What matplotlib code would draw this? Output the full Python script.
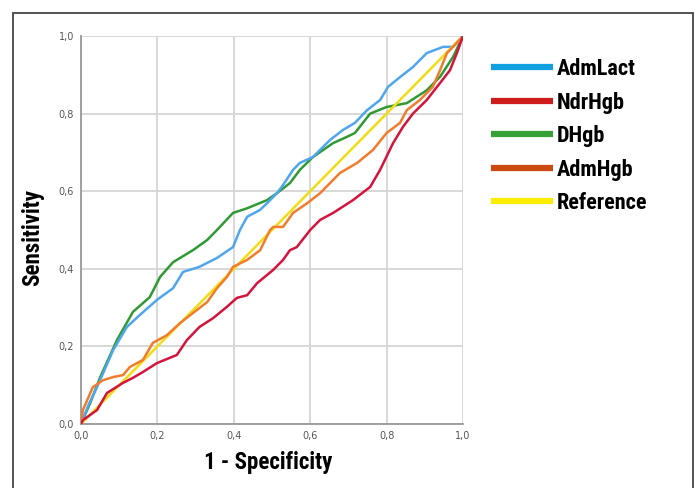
import matplotlib
matplotlib.use("Agg")
import matplotlib.pyplot as plt
import matplotlib.font_manager as fm
from matplotlib.lines import Line2D
from matplotlib.patches import Rectangle

# ROC curves (1 - specificity, sensitivity)
adm_lact_x = [0.0, 0.02, 0.042, 0.084, 0.12, 0.154, 0.199, 0.241, 0.267, 0.31, 0.356, 0.398,
              0.416, 0.435, 0.469, 0.487, 0.513, 0.529, 0.555, 0.573, 0.607, 0.652, 0.686,
              0.717, 0.749, 0.783, 0.804, 0.835, 0.869, 0.905, 0.948, 0.974, 1.0]
adm_lact_y = [0.0, 0.05, 0.095, 0.19, 0.25, 0.281, 0.32, 0.35, 0.392, 0.405, 0.428, 0.456,
              0.5, 0.534, 0.552, 0.569, 0.595, 0.616, 0.655, 0.673, 0.688, 0.732, 0.758,
              0.776, 0.809, 0.835, 0.869, 0.894, 0.92, 0.956, 0.972, 0.972, 1.0]

ndr_hgb_x = [0.0, 0.005, 0.042, 0.068, 0.11, 0.136, 0.162, 0.199, 0.251, 0.277, 0.31, 0.346,
             0.382, 0.408, 0.435, 0.461, 0.503, 0.529, 0.547, 0.565, 0.6, 0.626, 0.66,
             0.712, 0.757, 0.783, 0.817, 0.843, 0.869, 0.905, 0.94, 0.966, 0.984, 1.0]
ndr_hgb_y = [0.0, 0.01, 0.036, 0.08, 0.106, 0.119, 0.134, 0.157, 0.178, 0.216, 0.25, 0.273,
             0.302, 0.325, 0.332, 0.363, 0.397, 0.423, 0.448, 0.456, 0.5, 0.526, 0.544,
             0.577, 0.611, 0.655, 0.724, 0.766, 0.8, 0.835, 0.879, 0.912, 0.956, 1.0]

d_hgb_x = [0.0, 0.024, 0.05, 0.094, 0.136, 0.18, 0.207, 0.241, 0.293, 0.33, 0.356, 0.398,
           0.435, 0.487, 0.513, 0.547, 0.573, 0.607, 0.66, 0.696, 0.717, 0.757, 0.8,
           0.853, 0.905, 0.94, 0.974, 1.0]
d_hgb_y = [0.0, 0.054, 0.12, 0.216, 0.289, 0.327, 0.379, 0.417, 0.448, 0.474, 0.5, 0.544,
           0.556, 0.577, 0.595, 0.621, 0.655, 0.688, 0.724, 0.74, 0.75, 0.8, 0.817,
           0.827, 0.86, 0.895, 0.946, 1.0]

adm_hgb_x = [0.0, 0.005, 0.031, 0.058, 0.084, 0.11, 0.128, 0.162, 0.188, 0.225, 0.259, 0.293,
             0.33, 0.356, 0.382, 0.398, 0.435, 0.469, 0.495, 0.503, 0.529, 0.555, 0.592,
             0.626, 0.678, 0.723, 0.764, 0.8, 0.835, 0.853, 0.887, 0.921, 0.94, 0.958,
             0.974, 1.0]
adm_hgb_y = [0.0, 0.036, 0.095, 0.113, 0.121, 0.126, 0.147, 0.165, 0.209, 0.229, 0.26, 0.286,
             0.314, 0.35, 0.379, 0.405, 0.423, 0.448, 0.5, 0.508, 0.508, 0.544, 0.569,
             0.595, 0.647, 0.673, 0.706, 0.75, 0.776, 0.809, 0.835, 0.869, 0.912, 0.956,
             0.972, 1.0]

ref_x = [0.0, 1.0]
ref_y = [0.0, 1.0]

series_names = ["AdmLact", "NdrHgb", "DHgb", "AdmHgb", "Reference"]
line_colors = ["#4fa6ec", "#d4143c", "#2f9a33", "#f27b2c", "#f2dc12"]
legend_colors = ["#0fa0e2", "#cf1c1c", "#36a136", "#cc4a12", "#fcec00"]

tick_vals = [0.0, 0.2, 0.4, 0.6, 0.8, 1.0]
tick_labels = ["0,0", "0,2", "0,4", "0,6", "0,8", "1,0"]


def pick_condensed():
    # the reference uses a heavy condensed face; take the narrowest one installed
    entries = fm.fontManager.ttflist
    names = {f.name for f in entries}
    for name in ("Roboto Condensed", "Liberation Sans Narrow", "Open Sans Condensed",
                 "Noto Sans Condensed"):
        if name in names:
            return {"family": [name, "DejaVu Sans"], "stretch": "normal"}
    for f in entries:
        if f.name == "DejaVu Sans" and "condensed" in str(f.stretch).lower():
            return {"family": ["DejaVu Sans"], "stretch": "condensed"}
    return {"family": ["Liberation Sans", "DejaVu Sans"], "stretch": "normal"}


font_choice = pick_condensed()
bold_font = font_choice["family"]
bold_stretch = font_choice["stretch"]
heavy = 900

fig = plt.figure(figsize=(6.96, 4.88), dpi=100)
fig.patch.set_facecolor("white")

# outer frame (bottom edge runs off the image)
fig.add_artist(Rectangle((13 / 696, -0.05), 680 / 696, 1 - 13 / 488 + 0.05,
                         transform=fig.transFigure, fill=False,
                         edgecolor="#444444", linewidth=1.3))

ax = fig.add_axes([81 / 696, 64 / 488, 382 / 696, 388 / 488])

order = [(d_hgb_x, d_hgb_y, 2), (adm_lact_x, adm_lact_y, 0),
         (ref_x, ref_y, 4), (adm_hgb_x, adm_hgb_y, 3), (ndr_hgb_x, ndr_hgb_y, 1)]
for xs, ys, i in order:
    ax.plot(xs, ys, color=line_colors[i], linewidth=1.8, solid_joinstyle="round", zorder=3)

ax.set_xlim(0, 1)
ax.set_ylim(0, 1)
ax.set_xticks(tick_vals)
ax.set_xticklabels(tick_labels)
ax.set_yticks(tick_vals)
ax.set_yticklabels(tick_labels)
ax.tick_params(length=0, labelsize=7, labelcolor="#555555", pad=5)
ax.grid(True, color="#d6d6d6", linewidth=1.3, zorder=0)
for side in ("top", "right"):
    ax.spines[side].set_visible(False)
for side in ("left", "bottom"):
    ax.spines[side].set_color("#999999")
    ax.spines[side].set_linewidth(1.3)

fig.text(33 / 696, 1 - 237 / 488, "Sensitivity", rotation=90, ha="center", va="center",
         fontsize=16.5, fontweight=heavy, family=bold_font, fontstretch=bold_stretch)
fig.text(268 / 696, 1 - 462 / 488, "1 - Specificity", ha="center", va="center",
         fontsize=16.5, fontweight=heavy, family=bold_font, fontstretch=bold_stretch)

handles = [Line2D([0], [0], color=c, linewidth=4.5, solid_capstyle="butt") for c in legend_colors]
leg = fig.legend(handles, series_names, loc="upper left",
                 bbox_to_anchor=(471 / 696, 1 - 38 / 488), frameon=False,
                 handlelength=2.8, handletextpad=0.15, labelspacing=0.52,
                 prop={"family": bold_font, "weight": heavy, "size": 16,
                       "stretch": bold_stretch})

fig.savefig("out.png", dpi=100, facecolor="white")
